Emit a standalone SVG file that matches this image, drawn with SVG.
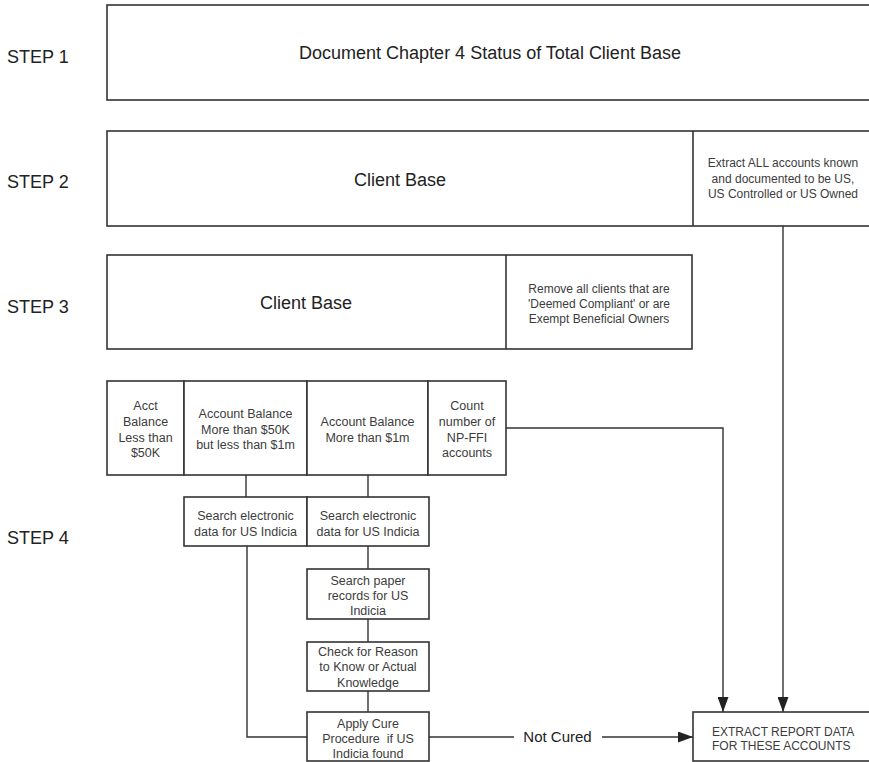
<svg xmlns="http://www.w3.org/2000/svg" width="869" height="762" viewBox="0 0 869 762">
  <style>
    .box { fill: #ffffff; stroke: #333333; stroke-width: 1.6; }
    .div { stroke: #333333; stroke-width: 1.6; fill: none; }
    .wire { stroke: #333333; stroke-width: 1.4; fill: none; }
    text { font-family: "Liberation Sans", Arial, Helvetica, sans-serif; }
    .step { font-size: 18px; fill: #222222; }
    .big { font-size: 18px; fill: #222222; text-anchor: middle; }
    .note { font-size: 12px; fill: #3c3c3c; text-anchor: middle; }
    .cell { font-size: 12.5px; fill: #3c3c3c; text-anchor: middle; }
    .label { font-size: 15px; fill: #222222; text-anchor: middle; }
    .caps { font-size: 12px; fill: #3c3c3c; }
  </style>
  <defs>
    <marker id="arrow" markerUnits="userSpaceOnUse" markerWidth="15" markerHeight="11" refX="15" refY="5.5" orient="auto">
      <path d="M0,0 L15,5.5 L0,11 z" fill="#222222"/>
    </marker>
  </defs>

  <rect width="869" height="762" fill="#ffffff"/>

  <!-- step labels -->
  <g id="step-labels">
    <text class="step" x="7" y="62.5">STEP 1</text>
    <text class="step" x="7" y="187.5">STEP 2</text>
    <text class="step" x="7" y="312.5">STEP 3</text>
    <text class="step" x="7" y="543.5">STEP 4</text>
  </g>

  <!-- connectors -->
  <g id="connectors">
    <path class="wire" d="M246,475 V497"/>
    <path class="wire" d="M368,475 V497"/>
    <path class="wire" d="M368,546 V569"/>
    <path class="wire" d="M368,619 V642"/>
    <path class="wire" d="M368,691 V712"/>
    <path class="wire" d="M247,546 V737 H307"/>
    <path class="wire" d="M429,737 H514"/>
    <path class="wire" d="M602,737 H693" marker-end="url(#arrow)"/>
    <path class="wire" d="M506,428 H723 V712" marker-end="url(#arrow)"/>
    <path class="wire" d="M783,226 V712" marker-end="url(#arrow)"/>
  </g>

  <!-- step 1 -->
  <g id="total-client-base">
    <rect class="box" x="107" y="5" width="780" height="95"/>
    <text class="big" x="490" y="59">Document Chapter 4 Status of Total Client Base</text>
  </g>

  <!-- step 2 -->
  <g id="client-base-2">
    <rect class="box" x="107" y="131" width="780" height="95"/>
    <line class="div" x1="693" y1="131" x2="693" y2="226"/>
    <text class="big" x="400" y="186">Client Base</text>
  </g>
  <g id="extract-us-accounts">
    <text class="note" x="783" y="167">Extract ALL accounts known</text>
    <text class="note" x="783" y="183">and documented to be US,</text>
    <text class="note" x="783" y="198">US Controlled or US Owned</text>
  </g>

  <!-- step 3 -->
  <g id="client-base-3">
    <rect class="box" x="107" y="255" width="585" height="94"/>
    <line class="div" x1="506" y1="255" x2="506" y2="349"/>
    <text class="big" x="306" y="309">Client Base</text>
  </g>
  <g id="remove-exempt">
    <text class="note" x="599" y="293">Remove all clients that are</text>
    <text class="note" x="599" y="308">'Deemed Compliant' or are</text>
    <text class="note" x="599" y="323">Exempt Beneficial Owners</text>
  </g>

  <!-- step 4: balance bands -->
  <g id="balance-under-50k">
    <rect class="box" x="107" y="381" width="77" height="94"/>
    <text class="cell" x="145.5" y="409.5">Acct</text>
    <text class="cell" x="145.5" y="425.5">Balance</text>
    <text class="cell" x="145.5" y="441.5">Less than</text>
    <text class="cell" x="145.5" y="456.5">$50K</text>
  </g>
  <g id="balance-50k-1m">
    <rect class="box" x="184" y="381" width="123" height="94"/>
    <text class="cell" x="245.5" y="417.5">Account Balance</text>
    <text class="cell" x="245.5" y="433.5">More than $50K</text>
    <text class="cell" x="245.5" y="448.5">but less than $1m</text>
  </g>
  <g id="balance-over-1m">
    <rect class="box" x="307" y="381" width="121" height="94"/>
    <text class="cell" x="367.5" y="425.5">Account Balance</text>
    <text class="cell" x="367.5" y="441.5">More than $1m</text>
  </g>
  <g id="count-npffi">
    <rect class="box" x="428" y="381" width="78" height="94"/>
    <text class="cell" x="467" y="409.5">Count</text>
    <text class="cell" x="467" y="425.5">number of</text>
    <text class="cell" x="467" y="441.5">NP-FFI</text>
    <text class="cell" x="467" y="456.5">accounts</text>
  </g>

  <!-- step 4: searches -->
  <g id="search-electronic-a">
    <rect class="box" x="184" y="497" width="123" height="49"/>
    <text class="cell" x="245.5" y="519.5">Search electronic</text>
    <text class="cell" x="245.5" y="535.5">data for US Indicia</text>
  </g>
  <g id="search-electronic-b">
    <rect class="box" x="307" y="497" width="122" height="49"/>
    <text class="cell" x="368" y="519.5">Search electronic</text>
    <text class="cell" x="368" y="535.5">data for US Indicia</text>
  </g>
  <g id="search-paper">
    <rect class="box" x="307" y="569" width="122" height="50"/>
    <text class="cell" x="368" y="584.5">Search paper</text>
    <text class="cell" x="368" y="599.5">records for US</text>
    <text class="cell" x="368" y="614.5">Indicia</text>
  </g>
  <g id="reason-to-know">
    <rect class="box" x="307" y="642" width="122" height="49"/>
    <text class="cell" x="368" y="655.5">Check for Reason</text>
    <text class="cell" x="368" y="670.5">to Know or Actual</text>
    <text class="cell" x="368" y="686.5">Knowledge</text>
  </g>
  <g id="cure-procedure">
    <rect class="box" x="307" y="712" width="122" height="49"/>
    <text class="cell" x="368" y="727.5">Apply Cure</text>
    <text class="cell" x="368" y="742.5" xml:space="preserve">Procedure  if US</text>
    <text class="cell" x="368" y="757.5">Indicia found</text>
  </g>

  <g id="not-cured-label">
    <text class="label" x="557.5" y="742.4">Not Cured</text>
  </g>

  <g id="extract-report">
    <rect class="box" x="693" y="712" width="200" height="49"/>
    <text class="caps" x="712" y="736.3">EXTRACT REPORT DATA</text>
    <text class="caps" x="712" y="750.3">FOR THESE ACCOUNTS</text>
  </g>
</svg>
